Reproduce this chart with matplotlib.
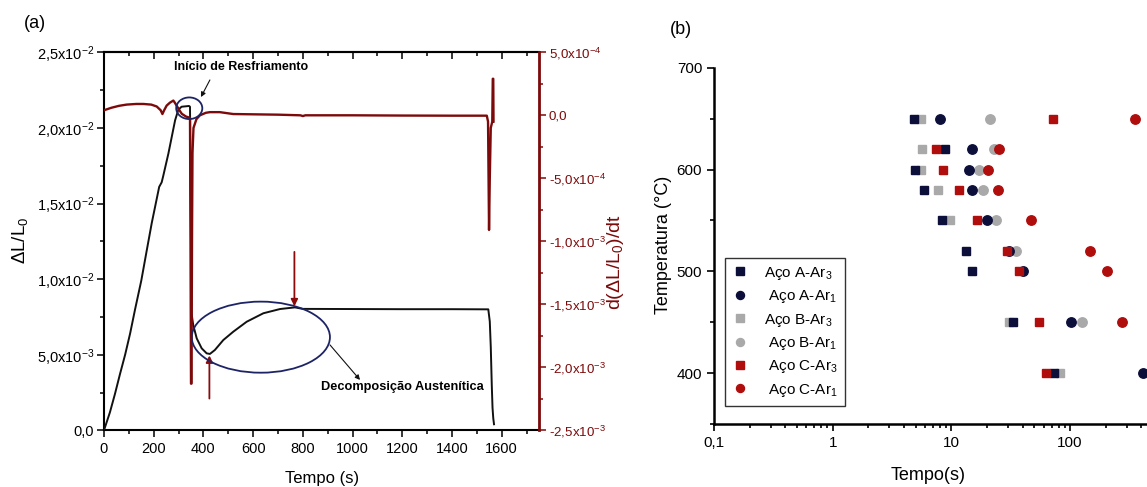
import numpy as np
import matplotlib
matplotlib.use("Agg")
import matplotlib.pyplot as plt
from matplotlib.patches import Ellipse
from matplotlib.ticker import MultipleLocator, NullFormatter, LogLocator
from matplotlib import font_manager

plt.rcParams['font.family'] = ['Liberation Sans', 'DejaVu Sans']
plt.rcParams['mathtext.fontset'] = 'custom'
plt.rcParams['mathtext.rm'] = 'Liberation Sans'
plt.rcParams['mathtext.it'] = 'Liberation Sans:italic'
plt.rcParams['mathtext.bf'] = 'Liberation Sans:bold'

_installed = {f.name for f in font_manager.fontManager.ttflist}
NARROW = 'Liberation Sans Narrow' if 'Liberation Sans Narrow' in _installed else 'Liberation Sans'

# ---------------- (a) dilatometric curve and its derivative ----------------
time_dl = [0, 24, 44, 64, 85, 105, 125, 150, 172, 192, 222, 232, 238, 259, 286,
           299, 312, 342, 346, 352, 359, 373, 393, 413, 426, 446, 480, 520, 574,
           641, 708, 768, 800, 1000, 1200, 1400, 1546, 1552, 1556, 1560, 1563,
           1566, 1569]
dl_e2 = [0, 0.12, 0.24, 0.37, 0.50, 0.64, 0.80, 0.99, 1.19, 1.37, 1.61, 1.64,
         1.68, 1.83, 2.05, 2.12, 2.14, 2.145, 2.14, 0.774, 0.696, 0.608, 0.542,
         0.509, 0.505, 0.531, 0.597, 0.652, 0.718, 0.774, 0.802, 0.813, 0.803,
         0.802, 0.801, 0.801, 0.800, 0.72, 0.55, 0.30, 0.15, 0.08, 0.04]

time_rate = [0, 30, 60, 91, 130, 158, 190, 212, 228, 235, 242, 252, 265, 279,
             285, 292, 305, 313, 330, 346, 348, 350, 352, 354, 356, 360, 372,
             386, 410, 426, 466, 520, 700, 790, 800, 810, 1000, 1200, 1400,
             1540, 1545, 1549, 1552, 1556, 1562, 1564, 1566, 1567]
rate_e3 = [0.04, 0.06, 0.075, 0.085, 0.09, 0.09, 0.085, 0.07, 0.04, 0.01, 0.04,
           0.077, 0.10, 0.117, 0.10, 0.077, 0.035, 0.012, -0.01, -0.02, -1.0,
           -2.13, -2.13, -1.0, -0.3, -0.1, -0.03, 0.0, 0.02, 0.025, 0.025, 0.01,
           0.005, 0.0, -0.006, 0.0, 0.0, -0.002, -0.003, -0.003, -0.05, -0.91,
           -0.5, -0.1, -0.05, 0.29, 0.29, -0.05]

left_ticks = [0.0, 0.005, 0.010, 0.015, 0.020, 0.025]
left_labels = ['0,0', r'5,0x10$^{-3}$', r'1,0x10$^{-2}$', r'1,5x10$^{-2}$',
               r'2,0x10$^{-2}$', r'2,5x10$^{-2}$']
right_ticks = [-2.5e-3, -2.0e-3, -1.5e-3, -1.0e-3, -5e-4, 0.0, 5e-4]
right_labels = [r'-2,5x10$^{-3}$', r'-2,0x10$^{-3}$', r'-1,5x10$^{-3}$',
                r'-1,0x10$^{-3}$', r'-5,0x10$^{-4}$', '0,0', r'5,0x10$^{-4}$']

# ---------------- (b) transformation start/finish temperatures ----------------
temps = [650, 620, 600, 580, 550, 520, 500, 450, 400]
aco_a_ar3 = [4.8, 8.9, 4.94, 5.88, 8.33, 13.4, 15.0, 32.8, 73.6]
aco_a_ar1 = [8.0, 14.8, 14.0, 14.9, 20.1, 30.5, 40.4, 102, 409]
aco_b_ar3 = [5.5, 5.65, 5.6, 7.76, 9.73, np.nan, np.nan, 30.7, 82.2]
aco_b_ar1 = [21.3, 23.0, 17.0, 18.4, 23.9, 35.0, np.nan, 127, np.nan]
aco_c_ar3 = [72, 7.4, 8.55, 11.7, 16.5, 29.5, 37.3, 54.3, 62.7]
aco_c_ar1 = [350, 25.4, 20.2, 24.9, 46.9, 147, 205.6, 274, np.nan]
time_ticks = [0.1, 1, 10, 100]
time_labels = ['0,1', '1', '10', '100']

W, H = 1147, 487
BLACK = '#111111'
DRED = '#7d0a0a'
NAVY = '#0b0f3a'
OUTLINE = '#1d2466'
GRAY = '#a9a9a9'
RED = '#b00d0d'

fig = plt.figure(figsize=(W / 100, H / 100), dpi=100)


def fx(px):
    return px / W


def fy(py):
    return 1 - py / H


# ---- panel (a)
ax = fig.add_axes([fx(104), fy(430.3), 435 / W, (430.3 - 52.3) / H])
ax.plot(time_dl, np.array(dl_e2) * 1e-2, color=BLACK, lw=1.4, zorder=3)
ax.set_xlim(0, 1750)
ax.set_ylim(0, 0.025)
ax.set_xticks(range(0, 1800, 200))
ax.xaxis.set_minor_locator(MultipleLocator(100))
ax.set_yticks(left_ticks, left_labels)
ax.yaxis.set_minor_locator(MultipleLocator(0.0025))
ax.tick_params(which='both', direction='out', labelsize=10.5, width=1.1)
ax.tick_params(axis='y', which='major', pad=2)
ax.tick_params(which='major', length=5)
ax.tick_params(which='minor', length=3)
for s in ['left', 'bottom', 'top']:
    ax.spines[s].set_linewidth(1.5)

top = ax.secondary_xaxis('top')
top.set_xticks(range(0, 1800, 200))
top.xaxis.set_minor_locator(MultipleLocator(100))
top.tick_params(which='both', direction='in', labeltop=False, width=1.1)
top.tick_params(which='major', length=5)
top.tick_params(which='minor', length=3)
top.spines['top'].set_linewidth(1.5)

ax2 = ax.twinx()
ax2.plot(time_rate, np.array(rate_e3) * 1e-3, color=DRED, lw=1.7, zorder=3)
ax2.set_ylim(-2.5e-3, 5e-4)
ax2.set_yticks(right_ticks, right_labels)
ax2.yaxis.set_minor_locator(MultipleLocator(2.5e-4))
ax2.tick_params(which='both', direction='out', labelsize=9.6, width=1.1,
                colors=DRED, pad=2)
ax2.tick_params(which='major', length=5)
ax2.tick_params(which='minor', length=3)
ax2.spines['right'].set_color(DRED)
ax2.spines['right'].set_linewidth(2.0)
for s in ['left', 'bottom', 'top']:
    ax2.spines[s].set_visible(False)

# circled regions, in ΔL/L0 data coordinates, drawn above both curves
e1 = Ellipse((343, 0.0213), 105, 0.00143, fill=False, ec=OUTLINE, lw=1.3,
             zorder=5)
e2 = Ellipse((631, 0.00616), 556, 0.0047, fill=False, ec=OUTLINE, lw=1.3,
             zorder=5)
for e in (e1, e2):
    ax2.add_patch(e)
    e.set_transform(ax.transData)

ax.annotate('Início de Resfriamento', xy=(551, 0.0240), ha='center', va='center',
            fontsize=9, fontweight='bold', family=NARROW, zorder=6)
ax.annotate('', xy=(390, 0.02204), xytext=(426, 0.02317),
            arrowprops=dict(arrowstyle='-|>', color=BLACK, lw=0.8,
                            mutation_scale=7, shrinkA=0, shrinkB=0))
ax.annotate('Decomposição Austenítica', xy=(1199, 0.00286), ha='center',
            va='center', fontsize=9.2, fontweight='bold', family=NARROW, zorder=6)
ax.annotate('', xy=(1030, 0.00333), xytext=(909, 0.00565),
            arrowprops=dict(arrowstyle='-|>', color=BLACK, lw=0.8,
                            mutation_scale=7, shrinkA=0, shrinkB=0))
ax2.annotate('', xy=(766, 0.0082), xytext=(766, 0.0118), xycoords=ax.transData,
             textcoords=ax.transData,
             arrowprops=dict(arrowstyle='-|>', color='#8b0a0a', lw=1.3,
                             mutation_scale=10, shrinkA=0, shrinkB=0))
ax2.annotate('', xy=(424, 0.00495), xytext=(424, 0.0021), xycoords=ax.transData,
             textcoords=ax.transData,
             arrowprops=dict(arrowstyle='-|>', color='#8b0a0a', lw=1.3,
                             mutation_scale=10, shrinkA=0, shrinkB=0))

fig.text(fx(35), fy(23), '(a)', fontsize=13, ha='center', va='center')
fig.text(fx(20), fy(240), 'ΔL/L$_0$', fontsize=13.5, rotation=90,
         ha='center', va='center')
fig.text(fx(616), fy(262), 'd(ΔL/L$_0$)/dt', fontsize=14, rotation=90,
         ha='center', va='center', color=DRED)
fig.text(fx(322), fy(478), 'Tempo (s)', fontsize=12, ha='center', va='center')

# ---- panel (b)
bx = fig.add_axes([fx(714), fy(424), 474.7 / W, 356.3 / H])
bx.set_xscale('log')
series = [
    (aco_b_ar3, 's', GRAY, 'Aço B-Ar$_3$', 6.0),
    (aco_b_ar1, 'o', GRAY, ' Aço B-Ar$_1$', 6.8),
    (aco_a_ar3, 's', NAVY, 'Aço A-Ar$_3$', 6.0),
    (aco_a_ar1, 'o', NAVY, ' Aço A-Ar$_1$', 6.8),
    (aco_c_ar3, 's', RED, ' Aço C-Ar$_3$', 6.0),
    (aco_c_ar1, 'o', RED, ' Aço C-Ar$_1$', 6.8),
]
handles = {}
for times, mk, col, lab, ms in series:
    h, = bx.plot(times, temps, ls='none', marker=mk, ms=ms, color=col,
                 mec=col, label=lab, clip_on=False)
    handles[lab] = h
order = ['Aço A-Ar$_3$', ' Aço A-Ar$_1$', 'Aço B-Ar$_3$', ' Aço B-Ar$_1$',
         ' Aço C-Ar$_3$', ' Aço C-Ar$_1$']
leg = bx.legend([handles[k] for k in order], order, loc='lower left',
                bbox_to_anchor=(0.0144, 0.0385), fontsize=11, frameon=True,
                fancybox=False, edgecolor='black', labelspacing=0.42,
                handlelength=1.0, handletextpad=1.1, borderpad=0.45,
                markerscale=0.85, borderaxespad=0.3)
leg.get_frame().set_linewidth(1.0)

bx.set_xlim(0.1, 1000)
bx.set_ylim(350, 700)
bx.set_xticks(time_ticks, time_labels)
bx.xaxis.set_minor_locator(LogLocator(base=10, subs=np.arange(2, 10)))
bx.xaxis.set_minor_formatter(NullFormatter())
bx.yaxis.set_major_locator(MultipleLocator(100))
bx.yaxis.set_minor_locator(MultipleLocator(50))
bx.tick_params(which='both', direction='out', labelsize=11, width=1.2)
bx.tick_params(which='major', length=5)
bx.tick_params(which='minor', length=3)
bx.spines['top'].set_visible(False)
bx.spines['right'].set_visible(False)
for s in ['left', 'bottom']:
    bx.spines[s].set_linewidth(1.8)

fig.text(fx(681), fy(30), '(b)', fontsize=13, ha='center', va='center')
fig.text(fx(664), fy(245), 'Temperatura (°C)', fontsize=13, rotation=90,
         ha='center', va='center')
fig.text(fx(928), fy(476), 'Tempo(s)', fontsize=13, ha='center', va='center')

fig.savefig('out.png', dpi=100)
